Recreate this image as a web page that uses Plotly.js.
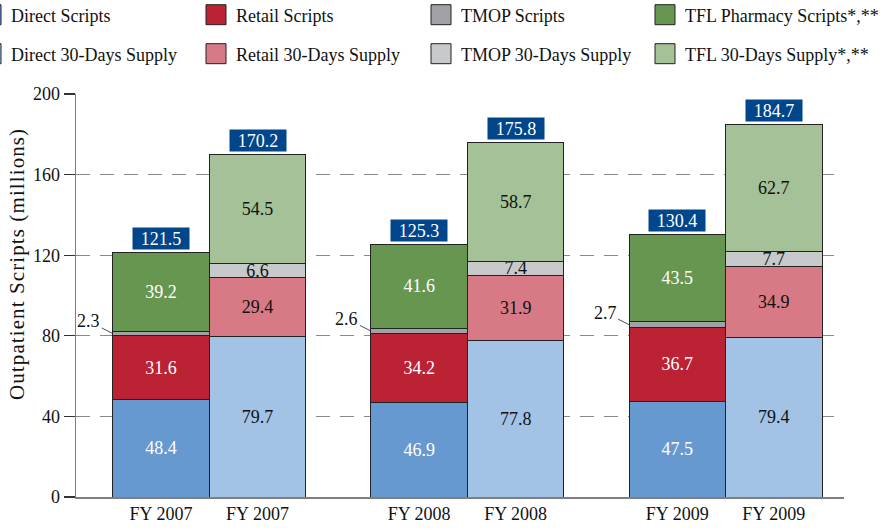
<!DOCTYPE html>
<html><head><meta charset="utf-8">
<script src="https://cdn.plot.ly/plotly-3.0.1.min.js"></script>
<style>html,body{margin:0;padding:0;background:#fff}#chart{width:882px;height:529px}</style>
</head><body><div id="chart"></div>
<script>
// ---- data ----
const years = ['FY 2007', 'FY 2008', 'FY 2009'];
const directScripts = [48.4, 46.9, 47.5];
const retailScripts = [31.6, 34.2, 36.7];
const tmopScripts = [2.3, 2.6, 2.7];
const tflScripts = [39.2, 41.6, 43.5];
const directSupply = [79.7, 77.8, 79.4];
const retailSupply = [29.4, 31.9, 34.9];
const tmopSupply = [6.6, 7.4, 7.7];
const tflSupply = [54.5, 58.7, 62.7];
const totalScripts = [121.5, 125.3, 130.4];
const totalSupply = [170.2, 175.8, 184.7];
const yTicks = [0, 40, 80, 120, 160, 200];

// ---- layout helpers ----
const FONT = 'Liberation Serif, Times New Roman, serif';
const GAP = 2.675;
const xS = years.map((_, i) => i * GAP);
const xD = years.map((_, i) => i * GAP + 1);
const fmt = v => v.toFixed(1);

function bar(name, x, y, color, textColor, legend, showText) {
  return {
    type: 'bar', name: name, x: x, y: y, width: 1, legend: legend,
    marker: {color: color, line: {color: '#222', width: 1}},
    text: showText ? y.map(fmt) : y.map(() => ''),
    textposition: 'inside', insidetextanchor: 'middle',
    textfont: {family: FONT, size: 18, color: textColor},
    hoverinfo: 'skip', cliponaxis: false
  };
}

const traces = [
  bar('Direct Scripts', xS, directScripts, '#6699d0', '#fff', 'legend', true),
  bar('Retail Scripts', xS, retailScripts, '#bb2234', '#fff', 'legend2', true),
  bar('TMOP Scripts', xS, tmopScripts, '#a0a2a5', '#000', 'legend3', false),
  bar('TFL Pharmacy Scripts*,**', xS, tflScripts, '#66964f', '#fff', 'legend4', true),
  bar('Direct 30-Days Supply', xD, directSupply, '#a3c3e6', '#111', 'legend5', true),
  bar('Retail 30-Days Supply', xD, retailSupply, '#d87a85', '#111', 'legend6', true),
  bar('TMOP 30-Days Supply', xD, tmopSupply, '#c8c9cb', '#111', 'legend7', true),
  bar('TFL 30-Days Supply*,**', xD, tflSupply, '#a5c197', '#111', 'legend8', true)
];

const annotations = [];
years.forEach((_, i) => {
  [[xS[i], totalScripts[i]], [xD[i], totalSupply[i]]].forEach(([x, t]) => {
    annotations.push({
      x: x, y: t, xref: 'x', yref: 'y', text: fmt(t), showarrow: false,
      yanchor: 'middle', yshift: 14, bgcolor: '#00468b', width: 54, height: 19,
      borderpad: 1, font: {family: FONT, size: 18, color: '#fff'}
    });
  });
  annotations.push({
    x: xS[i] - 0.5, y: directScripts[i] + retailScripts[i] + tmopScripts[i] / 2,
    xref: 'x', yref: 'y', text: fmt(tmopScripts[i]), showarrow: true,
    arrowhead: 0, arrowwidth: 0.8, arrowcolor: '#222', ax: -24, ay: -12,
    standoff: 0, font: {family: FONT, size: 18, color: '#111'}
  });
});
// y-axis title placed as a rotated annotation (reference sits above the plot centre)
annotations.push({
  xref: 'paper', yref: 'paper', x: 0, y: 0.578, xshift: -59, showarrow: false,
  text: 'Outpatient Scripts (millions)', textangle: -90, xanchor: 'center', yanchor: 'middle',
  font: {family: FONT, size: 21, color: '#111'}
});

// legend positions in container pixels (item start = text start - 40)
const colPx = [-29, 196, 421, 645];
const colLayoutPx = [0, 196, 421, 560];   // where Plotly is allowed to put them (it clamps inside the page)
const rowY = [1 - 15 / 529, 1 - 54 / 529];
const legendIds = ['legend', 'legend2', 'legend3', 'legend4', 'legend5', 'legend6', 'legend7', 'legend8'];
const legendBase = {
  orientation: 'h', xref: 'container', yref: 'container',
  xanchor: 'left', yanchor: 'middle',
  font: {family: FONT, size: 18, color: '#111'}, bgcolor: 'rgba(0,0,0,0)'
};
const legends = {};
legendIds.forEach((k, j) => {
  legends[k] = Object.assign({}, legendBase, {x: colLayoutPx[j % 4] / 882, y: rowY[Math.floor(j / 4)]});
});

const layout = Object.assign({
  width: 882, height: 529,
  margin: {l: 76, r: 38, t: 94, b: 32},
  paper_bgcolor: '#fff', plot_bgcolor: '#fff',
  barmode: 'stack', bargap: 0,
  uniformtext: {mode: 'show', minsize: 18},
  font: {family: FONT, size: 18, color: '#111'},
  showlegend: true,
  xaxis: {
    range: [-0.881, 7.078], tickvals: xS.concat(xD), ticktext: years.concat(years),
    showgrid: false, zeroline: false, showline: true, linecolor: '#7f7f7f', linewidth: 1.5,
    ticks: '', tickfont: {family: FONT, size: 18, color: '#111'}, fixedrange: true
  },
  yaxis: {
    range: [0, 200], tickvals: yTicks, showgrid: true, gridcolor: '#8a8a8a', gridwidth: 1.2,
    griddash: '14px,10px', zeroline: false, showline: true, linecolor: '#7f7f7f', linewidth: 1.5,
    ticks: 'outside', ticklen: 11, tickcolor: '#333', tickwidth: 1.2,
    tickfont: {family: FONT, size: 18, color: '#111'},
    fixedrange: true
  },
  annotations: annotations
}, legends);

Plotly.newPlot('chart', traces, layout, {displayModeBar: false, staticPlot: true}).then(() => {
  document.querySelectorAll('.legendpoints path').forEach(p => {
    p.setAttribute('d', 'M10,10H-10V-10H10Z');
  });
  document.querySelectorAll('.annotation-text').forEach(t => {
    if (t.textContent.indexOf('Outpatient') === 0) t.style.letterSpacing = '1.1px';
  });
  // move legend groups that Plotly had to keep inside the page to their reference columns
  legendIds.forEach((k, j) => {
    const dx = colPx[j % 4] - colLayoutPx[j % 4];
    if (!dx) return;
    document.querySelectorAll('.infolayer > g.' + k).forEach(g => {
      const tr = g.getAttribute('transform') || '';
      const m = tr.match(/translate\(\s*([-\d.]+)[ ,]+([-\d.]+)\s*\)/);
      if (m) g.setAttribute('transform', 'translate(' + (parseFloat(m[1]) + dx) + ',' + m[2] + ')');
    });
  });
});
</script></body></html>
